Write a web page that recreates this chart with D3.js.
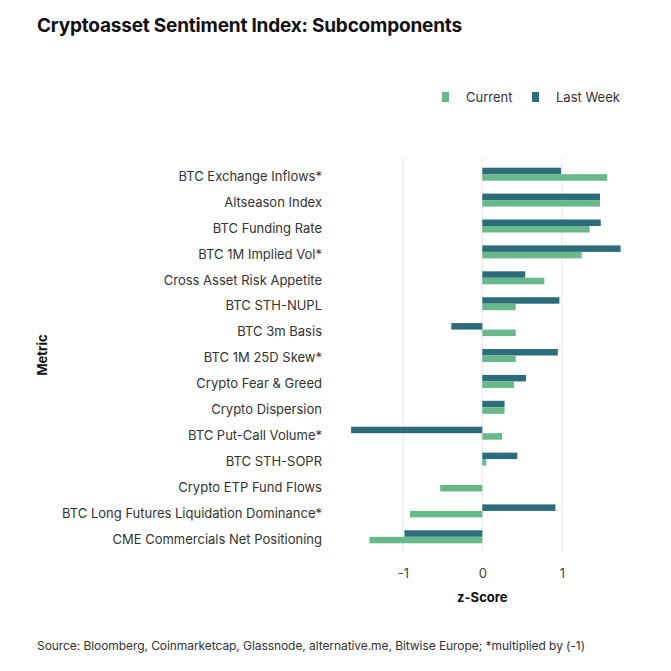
<!DOCTYPE html>
<html>
<head>
<meta charset="utf-8">
<script src="https://cdn.jsdelivr.net/npm/d3@7"></script>
<style>
  body { margin: 0; background: #fff; }
  text { font-family: Inter, "Liberation Sans", Arial, sans-serif; }
</style>
</head>
<body>
<svg id="chart" width="671" height="671"></svg>
<script>
const categories = [
  "BTC Exchange Inflows*",
  "Altseason Index",
  "BTC Funding Rate",
  "BTC 1M Implied Vol*",
  "Cross Asset Risk Appetite",
  "BTC STH-NUPL",
  "BTC 3m Basis",
  "BTC 1M 25D Skew*",
  "Crypto Fear & Greed",
  "Crypto Dispersion",
  "BTC Put-Call Volume*",
  "BTC STH-SOPR",
  "Crypto ETP Fund Flows",
  "BTC Long Futures Liquidation Dominance*",
  "CME Commercials Net Positioning"
];
const currentValues = [1.57, 1.48, 1.35, 1.25, 0.78, 0.42, 0.42, 0.42, 0.40, 0.28, 0.25, 0.05, -0.53, -0.91, -1.42];
const lastWeekValues = [0.99, 1.48, 1.49, 1.74, 0.54, 0.97, -0.39, 0.95, 0.55, 0.28, -1.65, 0.44, 0, 0.92, -0.98];
const xTicks = [-1, 0, 1];
const seriesNames = ["Current", "Last Week"];
const colors = { "Current": "#67b98a", "Last Week": "#2c6c7b" };

const svg = d3.select("#chart");

const x = d3.scaleLinear().domain([-1.8, 1.8]).range([339.2, 625.4]);
const y = d3.scaleBand().domain(categories).range([161.25, 549.75]).padding(0);
const barH = 6.5;

// title
svg.append("text").attr("x", 37).attr("y", 32)
  .attr("font-size", 19).attr("font-weight", 700).attr("fill", "#111")
  .attr("letter-spacing", -0.2)
  .text("Cryptoasset Sentiment Index: Subcomponents");

// gridlines
svg.append("g").selectAll("line").data(xTicks).join("line")
  .attr("x1", d => x(d)).attr("x2", d => x(d))
  .attr("y1", 158).attr("y2", 552)
  .attr("stroke", "#e6e6e6").attr("stroke-width", 1);

// x axis tick labels
const xAxis = d3.axisBottom(x).tickValues(xTicks).tickSize(0).tickPadding(0).tickFormat(d => String(d));
const gx = svg.append("g").attr("transform", "translate(0,569)").call(xAxis);
gx.select(".domain").remove();
gx.selectAll("text").attr("font-size", 13).attr("fill", "#444")
  .attr("font-family", "Inter, 'Liberation Sans', Arial, sans-serif");

// y axis labels
const yAxis = d3.axisLeft(y).tickSize(0).tickPadding(0);
const gy = svg.append("g").attr("transform", "translate(322,0)").call(yAxis);
gy.select(".domain").remove();
gy.selectAll("text").attr("font-size", 13).attr("fill", "#333").attr("dy", "0.52em")
  .attr("font-family", "Inter, 'Liberation Sans', Arial, sans-serif");

// bars
const mid = d => y(d) + y.bandwidth() / 2;
svg.append("g").selectAll("rect").data(categories).join("rect")
  .attr("x", (d, i) => x(Math.min(0, lastWeekValues[i])))
  .attr("width", (d, i) => Math.abs(x(lastWeekValues[i]) - x(0)))
  .attr("y", d => mid(d) - barH)
  .attr("height", barH)
  .attr("fill", colors["Last Week"]);
svg.append("g").selectAll("rect").data(categories).join("rect")
  .attr("x", (d, i) => x(Math.min(0, currentValues[i])))
  .attr("width", (d, i) => Math.abs(x(currentValues[i]) - x(0)))
  .attr("y", d => mid(d))
  .attr("height", barH)
  .attr("fill", colors["Current"]);

// axis titles
svg.append("text").attr("x", x(0)).attr("y", 602).attr("text-anchor", "middle")
  .attr("font-size", 13).attr("font-weight", 700).attr("fill", "#111").text("z-Score");
svg.append("text").attr("transform", "translate(47,355) rotate(-90)").attr("text-anchor", "middle")
  .attr("font-size", 13).attr("font-weight", 700).attr("fill", "#111").text("Metric");

// legend
const legendX = [442, 532];
const legendText = [466, 556];
seriesNames.forEach((s, i) => {
  svg.append("rect").attr("x", legendX[i]).attr("y", 92).attr("width", 7).attr("height", 10).attr("fill", colors[s]);
  svg.append("text").attr("x", legendText[i]).attr("y", 102).attr("font-size", 13).attr("fill", "#333").text(s);
});

// source
svg.append("text").attr("x", 37).attr("y", 650).attr("font-size", 12).attr("fill", "#333")
  .attr("letter-spacing", -0.07)
  .text("Source: Bloomberg, Coinmarketcap, Glassnode, alternative.me, Bitwise Europe; *multiplied by (-1)");
</script>
</body>
</html>
